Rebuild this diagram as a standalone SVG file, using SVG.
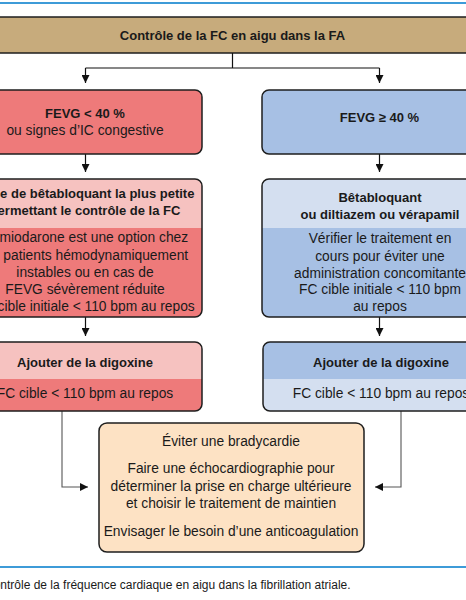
<svg xmlns="http://www.w3.org/2000/svg" width="466" height="600" viewBox="0 0 466 600">
<defs>
<marker id="arr" viewBox="0 0 10 10" refX="10" refY="5" markerWidth="8" markerHeight="8" markerUnits="userSpaceOnUse" orient="auto">
<path d="M0,0 L10,5 L0,10 z" fill="#111"/>
</marker>
<style>
text{font-family:"Liberation Sans",Arial,sans-serif;font-size:13.8px;fill:#1a1a1a;text-anchor:middle}
.b{font-weight:bold;font-size:13px}
.out{fill:none;stroke:#1e1e1e;stroke-width:1.5}
.con{fill:none;stroke:#111;stroke-width:1.2}
.gcon{fill:none;stroke:#555;stroke-width:1.1}
.red{fill:#ee7a7a}
.pink{fill:#f6c2c0}
.blue{fill:#a7c0e4}
.lblue{fill:#d4dff0}
.rule{stroke:#3d9bd8;stroke-width:2}
</style>
</defs>
<rect width="466" height="600" fill="#fff"/>
<line class="rule" x1="0" y1="3" x2="466" y2="3"/>

<g id="title">
<rect x="-2" y="17" width="470" height="36" fill="#c7ab7c" stroke="#1e1e1e" stroke-width="1.5"/>
<text class="b" x="232.5" y="39.5">Contrôle de la FC en aigu dans la FA</text>
</g>

<g id="connectors">
<path class="con" d="M232.5,53 V68 M85.5,68 H379.5"/>
<path class="con" d="M85.5,68 V83" marker-end="url(#arr)"/>
<path class="con" d="M379.5,68 V83" marker-end="url(#arr)"/>
<path class="con" d="M85.5,154 V172" marker-end="url(#arr)"/>
<path class="con" d="M379.5,154 V172" marker-end="url(#arr)"/>
<path class="con" d="M85.5,317 V336" marker-end="url(#arr)"/>
<path class="con" d="M379.5,317 V336" marker-end="url(#arr)"/>
<path class="gcon" d="M62,411 V487 H88" marker-end="url(#arr)"/>
<path class="gcon" d="M401,411 V487 H375" marker-end="url(#arr)"/>
</g>

<g id="fevg-low">
<rect class="red" x="-32" y="90" width="234" height="64" rx="7"/>
<rect class="out" x="-32" y="90" width="234" height="64" rx="7"/>
<text class="b" x="85" y="118">FEVG &lt; 40 %</text>
<text x="85" y="134.5">ou signes d’IC congestive</text>
</g>

<g id="fevg-high">
<rect class="blue" x="262" y="90" width="235" height="64" rx="7"/>
<rect class="out" x="262" y="90" width="235" height="64" rx="7"/>
<text class="b" x="379.5" y="122">FEVG ≥ 40 %</text>
</g>

<g id="betabloquant-low">
<rect class="red" x="-32" y="179" width="234" height="138" rx="7"/>
<path class="pink" d="M-32,228 V186 a7,7 0 0 1 7,-7 H195 a7,7 0 0 1 7,7 V228 z"/>
<rect class="out" x="-32" y="179" width="234" height="138" rx="7"/>
<text class="b" x="85" y="198">Dose de bêtabloquant la plus petite</text>
<text class="b" x="85" y="215">permettant le contrôle de la FC</text>
<text x="85" y="242">L’amiodarone est une option chez</text>
<text x="85" y="259.5">les patients hémodynamiquement</text>
<text x="85" y="276.5">instables  ou en cas de</text>
<text x="85" y="293.5">FEVG sévèrement réduite</text>
<text x="85" y="311">FC cible initiale &lt; 110 bpm au repos</text>
</g>

<g id="betabloquant-high">
<rect class="blue" x="262" y="179" width="235" height="138" rx="7"/>
<path class="lblue" d="M262,228 V186 a7,7 0 0 1 7,-7 H490 a7,7 0 0 1 7,7 V228 z"/>
<rect class="out" x="262" y="179" width="235" height="138" rx="7"/>
<text class="b" x="380" y="202">Bêtabloquant</text>
<text class="b" x="380" y="218.5">ou diltiazem ou vérapamil</text>
<text x="380" y="243">Vérifier le traitement en</text>
<text x="380" y="260.5">cours pour éviter une</text>
<text x="380" y="277.5">administration concomitante</text>
<text x="380" y="294">FC cible initiale &lt; 110 bpm</text>
<text x="380" y="311">au repos</text>
</g>

<g id="digoxine-low">
<rect class="red" x="-32" y="342" width="234" height="69" rx="7"/>
<path class="pink" d="M-32,379 V349 a7,7 0 0 1 7,-7 H195 a7,7 0 0 1 7,7 V379 z"/>
<rect class="out" x="-32" y="342" width="234" height="69" rx="7"/>
<text class="b" x="85" y="367">Ajouter de la digoxine</text>
<text x="85" y="398">FC cible &lt; 110 bpm au repos</text>
</g>

<g id="digoxine-high">
<rect class="lblue" x="263" y="342" width="234" height="69" rx="7"/>
<path class="blue" d="M263,379 V349 a7,7 0 0 1 7,-7 H490 a7,7 0 0 1 7,7 V379 z"/>
<rect class="out" x="263" y="342" width="234" height="69" rx="7"/>
<text class="b" x="381" y="367">Ajouter de la digoxine</text>
<text x="381" y="398">FC cible &lt; 110 bpm au repos</text>
</g>

<g id="suivi">
<rect x="99" y="423" width="265" height="129" rx="8" fill="#fde2c4" stroke="#1e1e1e" stroke-width="1.5"/>
<text x="231" y="446">Éviter une bradycardie</text>
<text x="231" y="473">Faire une échocardiographie pour</text>
<text x="231" y="490.5">déterminer la prise en charge ultérieure</text>
<text x="231" y="508">et choisir le traitement de maintien</text>
<text x="231" y="536">Envisager le besoin d’une anticoagulation</text>
</g>

<line class="rule" x1="0" y1="567" x2="466" y2="567"/>
<text x="-15" y="589" style="text-anchor:start;font-size:12px">Contrôle de la fréquence cardiaque en aigu dans la fibrillation atriale.</text>
</svg>
